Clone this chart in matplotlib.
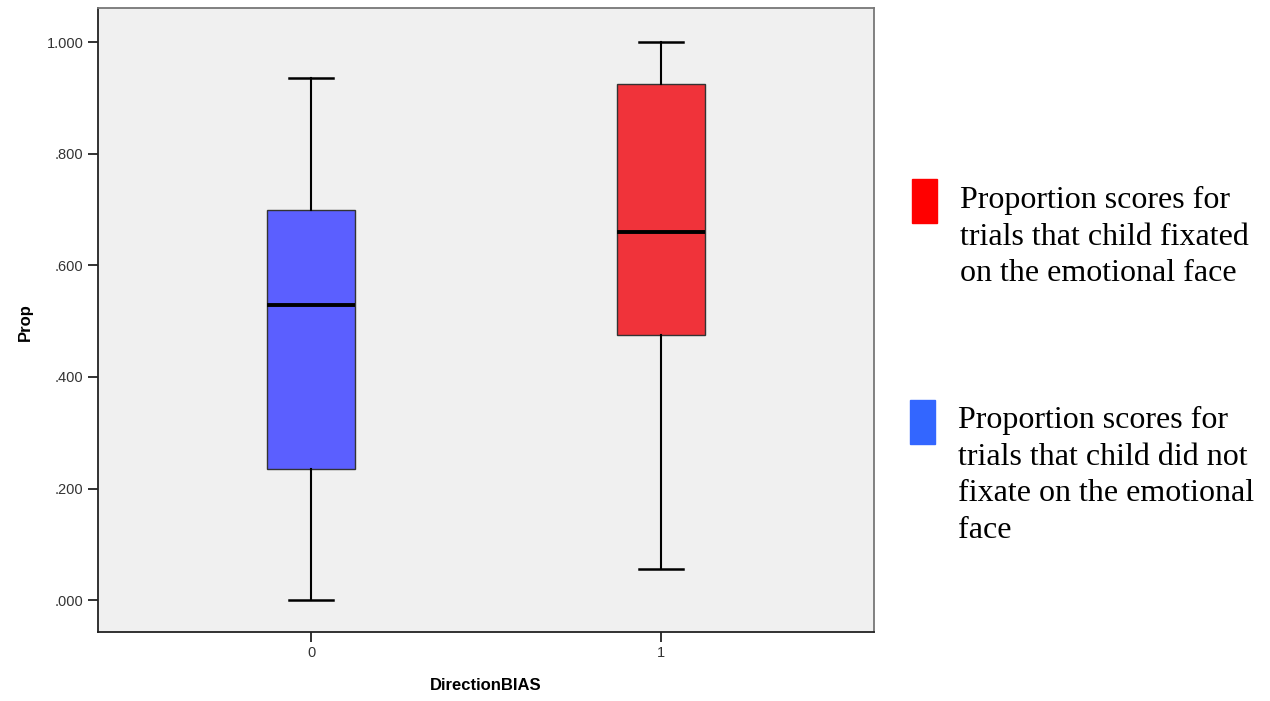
import matplotlib.pyplot as plt
from matplotlib.patches import Rectangle
from matplotlib.ticker import FuncFormatter

groups = ["0", "1"]
whislo = [0.000, 0.056]
q1 = [0.235, 0.475]
med = [0.529, 0.659]
q3 = [0.699, 0.925]
whishi = [0.935, 1.000]
box_colors = ["#5b5fff", "#f0333a"]

legend_texts = [
    "Proportion scores for\ntrials that child fixated\non the emotional face",
    "Proportion scores for\ntrials that child did not\nfixate on the emotional\nface",
]
legend_colors = ["#ff0000", "#3366ff"]

plt.rcParams['font.family'] = ['Liberation Sans', 'DejaVu Sans']

fig = plt.figure(figsize=(12.7, 7.01), dpi=100)
ax = fig.add_axes([98 / 1270, 69 / 701, 776 / 1270, 624 / 701])
ax.set_facecolor("#f0f0f0")

stats = []
for i in range(len(groups)):
    stats.append(dict(label=groups[i], whislo=whislo[i], q1=q1[i], med=med[i],
                      q3=q3[i], whishi=whishi[i], fliers=[]))

bp = ax.bxp(stats, positions=range(len(groups)), widths=0.25, patch_artist=True,
            showfliers=False,
            boxprops=dict(edgecolor="#333333", linewidth=1.0),
            medianprops=dict(color="black", linewidth=2.8),
            whiskerprops=dict(color="black", linewidth=1.5),
            capprops=dict(color="black", linewidth=1.8))
for patch, c in zip(bp["boxes"], box_colors):
    patch.set_facecolor(c)

ax.set_xlim(-0.609, 1.609)
ax.set_ylim(-0.057, 1.061)
ax.set_yticks([0, 0.2, 0.4, 0.6, 0.8, 1.0])
ax.yaxis.set_major_formatter(FuncFormatter(
    lambda v, p: "1.000" if v >= 0.999 else ("%.3f" % v).lstrip("0")))
ax.tick_params(axis="y", length=7, width=1.3, labelsize=10.5, colors="#222222",
               labelcolor="#333333")
ax.tick_params(axis="x", length=7, width=1.3, labelsize=10.5, pad=3, colors="#222222",
               labelcolor="#333333")

for s in ["left", "bottom"]:
    ax.spines[s].set_color("#222222")
    ax.spines[s].set_linewidth(1.3)
for s in ["top", "right"]:
    ax.spines[s].set_color("#777777")
    ax.spines[s].set_linewidth(1.3)

ax.set_xlabel("DirectionBIAS", fontsize=12, fontweight="bold", va="center")
ax.set_ylabel("Prop", fontsize=12, fontweight="bold", va="center")
ax.xaxis.set_label_coords(0.5, -0.0865)
ax.yaxis.set_label_coords(-0.094, 0.497)

# side legend drawn in figure pixels
rects = [(912, 179), (910, 400)]
texts_xy = [(960, 186), (958, 406)]
for (rx, ry), (tx, ty), c, t in zip(rects, texts_xy, legend_colors, legend_texts):
    fig.patches.append(Rectangle((rx / 1270, 1 - (ry + 44) / 701), 25 / 1270, 44 / 701,
                                 transform=fig.transFigure, color=c))
    fig.text(tx / 1270, 1 - ty / 701, t, ha="left", va="top",
             family=["Liberation Serif", "DejaVu Serif"], fontsize=23,
             linespacing=1.35)

fig.savefig("out.png", dpi=100)
